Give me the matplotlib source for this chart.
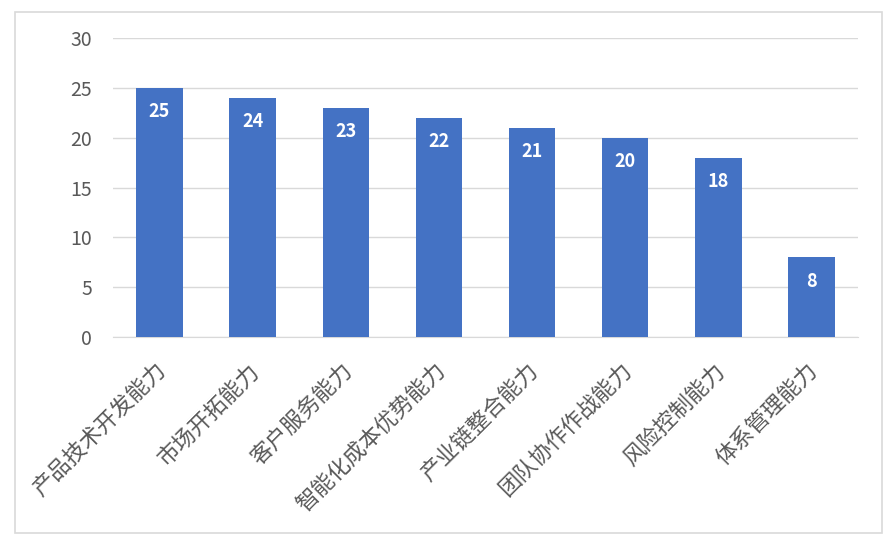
import matplotlib
matplotlib.use("Agg")
import matplotlib.pyplot as plt
from matplotlib.patches import Rectangle
from matplotlib.transforms import ScaledTranslation

plt.rcParams['font.family'] = ['Noto Sans CJK SC', 'DejaVu Sans']

categories = ["产品技术开发能力", "市场开拓能力", "客户服务能力", "智能化成本优势能力",
              "产业链整合能力", "团队协作作战能力", "风险控制能力", "体系管理能力"]
values = [25, 24, 23, 22, 21, 20, 18, 8]
yticks = [0, 5, 10, 15, 20, 25, 30]

fig = plt.figure(figsize=(8.93, 5.46), dpi=100)
fig.patches.append(Rectangle((15/893, 1-533/546), (882-15)/893, (533-12)/546,
                             transform=fig.transFigure, fill=False,
                             edgecolor='#D9D9D9', linewidth=1.2))
ax = fig.add_axes([113/893, 1-337/546, (858-113)/893, (337-38)/546])

x = list(range(len(categories)))
bars = ax.bar(x, values, width=0.5, color='#4472C4', zorder=3)
for xi, v in zip(x, values):
    ax.text(xi, v - 2.4, str(v), ha='center', va='center', color='white',
            fontsize=13, fontweight='bold', zorder=4)

ax.set_xlim(-0.5, len(categories) - 0.5)
ax.set_ylim(0, 30)
ax.set_yticks(yticks)
ax.set_yticklabels([str(t) for t in yticks], fontsize=14, color='#595959')
ax.yaxis.grid(True, color='#D9D9D9', linewidth=1, zorder=0)
ax.tick_params(axis='y', length=0, pad=15)
ax.tick_params(axis='x', length=0, pad=16)
ax.set_xticks(x)
ax.set_xticklabels(categories, rotation=45, ha='right', rotation_mode='anchor',
                   fontsize=16, color='#595959', fontweight='light')
offset = ScaledTranslation(-5/100, 0, fig.dpi_scale_trans)
for lbl in ax.get_xticklabels():
    lbl.set_transform(lbl.get_transform() + offset)
for s in ['top', 'right', 'left']:
    ax.spines[s].set_visible(False)
ax.spines['bottom'].set_color('#D9D9D9')

fig.savefig('out.png', dpi=100)
